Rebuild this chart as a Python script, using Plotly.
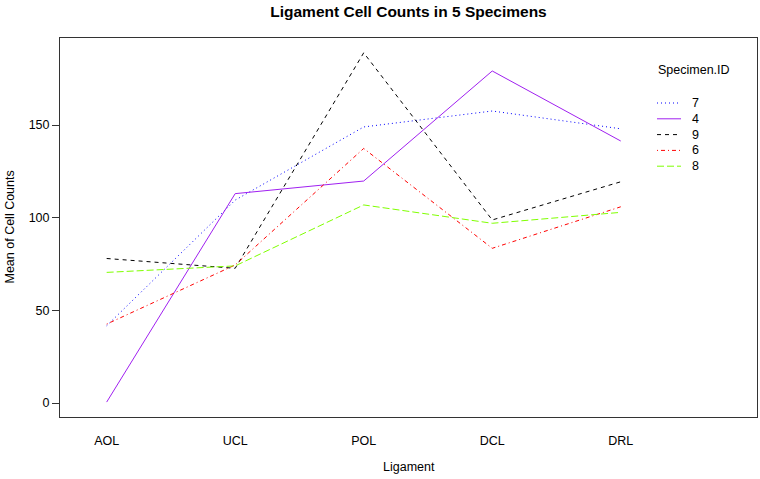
import plotly.graph_objects as go

ligaments = ["AOL", "UCL", "POL", "DCL", "DRL"]
specimen_ids = ["7", "4", "9", "6", "8"]
spec_7 = [41.7, 109.5, 149.0, 157.6, 148.0]
spec_4 = [0.5, 113.0, 119.8, 179.2, 141.4]
spec_9 = [78.0, 72.7, 189.0, 98.8, 119.4]
spec_6 = [42.6, 74.5, 137.4, 83.5, 105.9]
spec_8 = [70.5, 74.0, 106.9, 97.0, 102.9]
y_ticks = [0, 50, 100, 150]

series = [spec_7, spec_4, spec_9, spec_6, spec_8]
colors = ["#0000FF", "#A020F0", "#000000", "#FF0000", "#7FFF00"]
dashes = ["1px,3px", "solid", "4px,4px", "1px,3px,4px,3px", "7px,3px"]

FONT = "Liberation Sans, Arial, Helvetica, sans-serif"
FS = 12.5
W, H = 760, 479
L, R, T, B = 60, 3, 38, 62
pw, ph = W - L - R, H - T - B

fig = go.Figure()
xs = list(range(1, len(ligaments) + 1))
for name, vals, c, d in zip(specimen_ids, series, colors, dashes):
    fig.add_trace(go.Scatter(x=xs, y=vals, mode="lines", name=name,
                             line=dict(color=c, width=1, dash=d),
                             showlegend=False))

def px_x(px):
    return (px - L) / pw

def px_y(py):
    return (H - B - py) / ph

# manual legend (R style)
ann = [dict(text="Specimen.ID", x=px_x(656), y=px_y(70), xref="paper", yref="paper",
            showarrow=False, xanchor="left", yanchor="middle",
            font=dict(family=FONT, size=FS, color="black"))]
shapes = []
for i, (name, c, d) in enumerate(zip(specimen_ids, colors, dashes)):
    yy = 103 + 15.8 * i
    shapes.append(dict(type="line", xref="paper", yref="paper",
                       x0=px_x(657), x1=px_x(681), y0=px_y(yy), y1=px_y(yy),
                       line=dict(color=c, width=1, dash=d)))
    ann.append(dict(text=name, x=px_x(690), y=px_y(yy), xref="paper", yref="paper",
                    showarrow=False, xanchor="left", yanchor="middle",
                    font=dict(family=FONT, size=FS, color="black")))

ann.append(dict(text="Ligament", x=0.5, y=px_y(467), xref="paper", yref="paper",
                showarrow=False, xanchor="center", yanchor="middle",
                font=dict(family=FONT, size=FS, color="black")))
ann.append(dict(text="Mean of Cell Counts", x=px_x(9), y=0.5, xref="paper", yref="paper",
                showarrow=False, textangle=-90, xanchor="center", yanchor="middle",
                font=dict(family=FONT, size=FS, color="black")))

fig.update_layout(
    width=W, height=H,
    margin=dict(l=L, r=R, t=T, b=B),
    paper_bgcolor="white", plot_bgcolor="white",
    title=dict(text="<b>Ligament Cell Counts in 5 Specimens</b>", x=0.5, xref="paper",
               y=1 - 12 / H, yref="container", yanchor="middle", xanchor="center",
               font=dict(family=FONT, size=15.5, color="black")),
    annotations=ann, shapes=shapes,
    xaxis=dict(range=[0.637, 6.06], tickvals=xs, ticktext=ligaments,
               showgrid=False, zeroline=False, showline=True, mirror=True,
               linecolor="#333333", linewidth=1, ticks="outside", ticklen=12,
               tickcolor="rgba(0,0,0,0)",
               tickfont=dict(family=FONT, size=FS, color="black")),
    yaxis=dict(range=[-7.55, 197], tickvals=y_ticks,
               showgrid=False, zeroline=False, showline=True, mirror=True,
               linecolor="#333333", linewidth=1, ticks="outside", ticklen=7,
               tickcolor="#333333",
               tickfont=dict(family=FONT, size=FS, color="black")),
)

fig.write_html("out.html", config={"displayModeBar": False},
               post_script="document.body.style.margin='0';document.body.style.padding='0';")
